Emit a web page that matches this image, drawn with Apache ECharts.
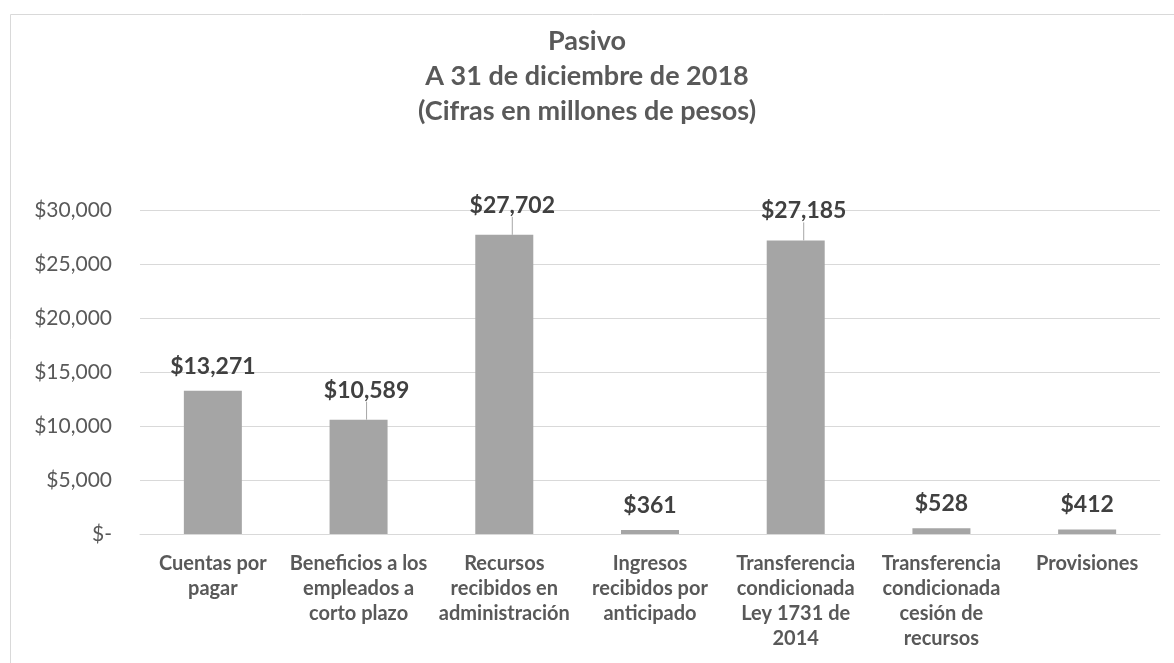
<!DOCTYPE html>
<html>
<head>
<meta charset="utf-8">
<script src="https://cdn.jsdelivr.net/npm/echarts@6/dist/echarts.min.js"></script>
<style>
  html, body { margin: 0; padding: 0; background: #fff; }
  #chart { width: 1174px; height: 663px; }
</style>
</head>
<body>
<div id="chart"></div>
<script>
// datos del gráfico
var categorias = [
  'Cuentas por\npagar',
  'Beneficios a los\nempleados a\ncorto plazo',
  'Recursos\nrecibidos en\nadministración',
  'Ingresos\nrecibidos por\nanticipado',
  'Transferencia\ncondicionada\nLey 1731 de\n2014',
  'Transferencia\ncondicionada\ncesión de\nrecursos',
  'Provisiones'
];
var valores = [13271, 10589, 27702, 361, 27185, 528, 412];
var ticksY = [0, 5000, 10000, 15000, 20000, 25000, 30000];
// etiquetas movidas a mano en el original (con línea guía)
var etiquetasMovidas = [1, 2, 4];

function pesos(v) {
  if (v === 0) return '$-';
  return '$' + v.toLocaleString('en-US');
}

var myChart = echarts.init(document.getElementById('chart'));
var option = {
  animation: false,
  textStyle: { fontFamily: 'Lato' },
  title: {
    text: 'Pasivo\nA 31 de diciembre de 2018\n(Cifras en millones de pesos)',
    left: 'center',
    top: 19,
    textStyle: {
      fontFamily: 'Lato',
      fontSize: 27,
      fontWeight: 'bold',
      color: '#595959',
      lineHeight: 35
    }
  },
  graphic: [{
    type: 'rect',
    shape: { x: 10.5, y: 14.5, width: 1300, height: 800 },
    style: { fill: 'none', stroke: '#d9d9d9', lineWidth: 1 },
    silent: true
  }],
  grid: { left: 140, right: 14, top: 210, bottom: 129 },
  xAxis: {
    type: 'category',
    data: categorias,
    axisTick: { show: false },
    axisLine: { lineStyle: { color: '#d9d9d9', width: 1 } },
    axisLabel: {
      interval: 0,
      margin: 17,
      color: '#595959',
      fontFamily: 'Lato',
      fontWeight: 'bold',
      fontSize: 20,
      lineHeight: 25
    }
  },
  yAxis: {
    type: 'value',
    min: ticksY[0],
    max: ticksY[ticksY.length - 1],
    interval: 5000,
    axisLine: { show: false },
    axisTick: { show: false },
    splitLine: { lineStyle: { color: '#d9d9d9', width: 1 } },
    axisLabel: {
      margin: 28,
      color: '#595959',
      fontFamily: 'Lato',
      fontSize: 21,
      formatter: pesos
    }
  },
  series: [{
    type: 'bar',
    data: valores.map(function (v, i) {
      var movida = etiquetasMovidas.indexOf(i) >= 0;
      return { value: v, labelLine: { show: movida } };
    }),
    barWidth: 58,
    itemStyle: { color: '#a5a5a5' },
    label: {
      show: true,
      position: 'top',
      distance: 13,
      color: '#404040',
      fontFamily: 'Lato',
      fontWeight: 'bold',
      fontSize: 23,
      formatter: function (p) { return pesos(p.value); }
    },
    labelLine: {
      show: false,
      lineStyle: { color: '#a6a6a6', width: 1 }
    },
    labelLayout: function (p) {
      if (etiquetasMovidas.indexOf(p.dataIndex) >= 0) {
        return { dx: 8, dy: -5 };
      }
      return {};
    }
  }]
};
myChart.setOption(option);
</script>
</body>
</html>
